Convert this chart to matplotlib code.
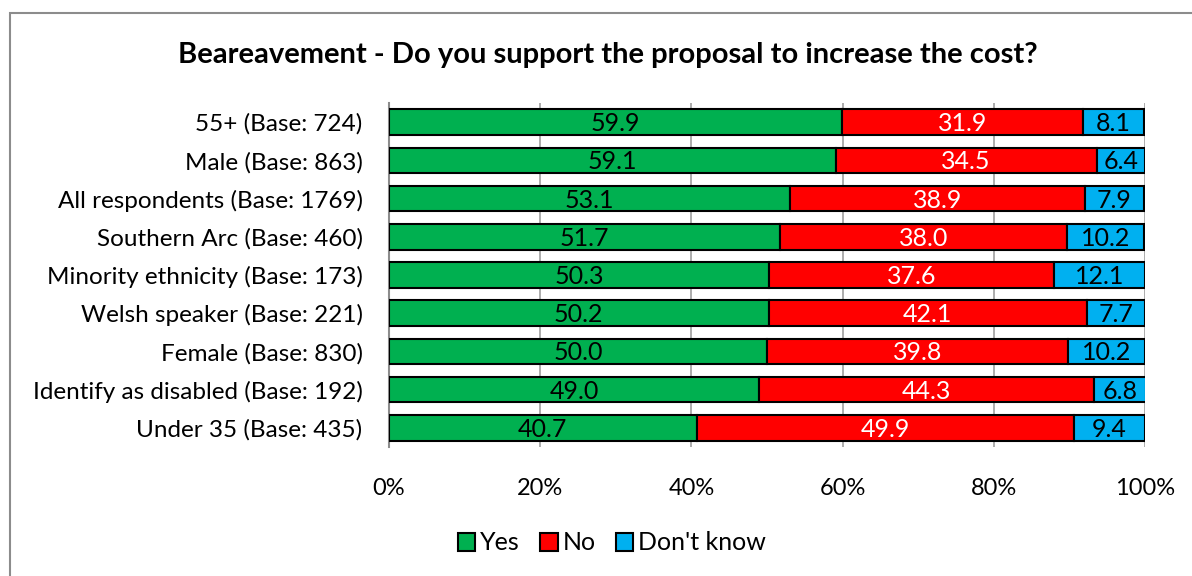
import matplotlib.pyplot as plt
import numpy as np
from matplotlib.patches import Rectangle

plt.rcParams['font.family'] = ['Lato', 'DejaVu Sans']

# data, top to bottom as in the chart
groups = ['55+ (Base: 724)', 'Male (Base: 863)', 'All respondents (Base: 1769)',
          'Southern Arc (Base: 460)', 'Minority ethnicity (Base: 173)',
          'Welsh speaker (Base: 221)', 'Female (Base: 830)',
          'Identify as disabled (Base: 192)', 'Under 35 (Base: 435)']
yes = [59.9, 59.1, 53.1, 51.7, 50.3, 50.2, 50.0, 49.0, 40.7]
no = [31.9, 34.5, 38.9, 38.0, 37.6, 42.1, 39.8, 44.3, 49.9]
dont_know = [8.1, 6.4, 7.9, 10.2, 12.1, 7.7, 10.2, 6.8, 9.4]

series = [('Yes', yes, '#00B050', 'black'),
          ('No', no, '#FF0000', 'white'),
          ("Don't know", dont_know, '#00B0F0', 'black')]

fig = plt.figure(figsize=(11.92, 5.76), dpi=100)
ax = fig.add_axes([389 / 1192, 1 - 447 / 576, (1145 - 389) / 1192, (447 - 103) / 576])

y = np.arange(len(groups))
left = np.zeros(len(groups))
for name, vals, color, txt in series:
    vals = np.array(vals)
    ax.barh(y, vals, left=left, height=0.67, color=color,
            edgecolor='black', linewidth=1.5, label=name, zorder=3)
    for yi, l, v in zip(y, left, vals):
        ax.text(l + v / 2, yi + 0.04, f'{v:.1f}', ha='center', va='center',
                color=txt, fontsize=18, zorder=4)
    left += vals

ax.set_ylim(len(groups) - 0.5, -0.5)
ax.set_xlim(0, 100)
ax.set_yticks(y)
ax.set_yticklabels(groups, fontsize=17.5)
ax.set_xticks([0, 20, 40, 60, 80, 100])
ax.set_xticklabels(['0%', '20%', '40%', '60%', '80%', '100%'], fontsize=17)
ax.tick_params(axis='y', length=0, pad=19)
ax.tick_params(axis='x', length=0, pad=22)
ax.grid(axis='x', color='#A6A6A6', linewidth=1.3, zorder=0)
for s in ['top', 'right', 'bottom']:
    ax.spines[s].set_visible(False)
ax.spines['left'].set_color('#8C8C8C')
ax.spines['left'].set_linewidth(1.5)

fig.text(608 / 1192, 1 - 55 / 576, 'Beareavement - Do you support the proposal to increase the cost?',
         ha='center', va='center', fontsize=21, fontweight='bold')

ax.legend(loc='center', bbox_to_anchor=(612 / 1192, 1 - 543 / 576),
          bbox_transform=fig.transFigure, ncol=3, frameon=False, fontsize=18,
          handlelength=0.7, handleheight=0.7, handletextpad=0.2, columnspacing=0.8)

fig.patches.append(Rectangle((10 / 1192, -0.05), 1.1, 1 - 13 / 576 + 0.05,
                             transform=fig.transFigure, fill=False,
                             edgecolor='#8C8C8C', linewidth=1.5))

fig.savefig('out.png', dpi=100)
